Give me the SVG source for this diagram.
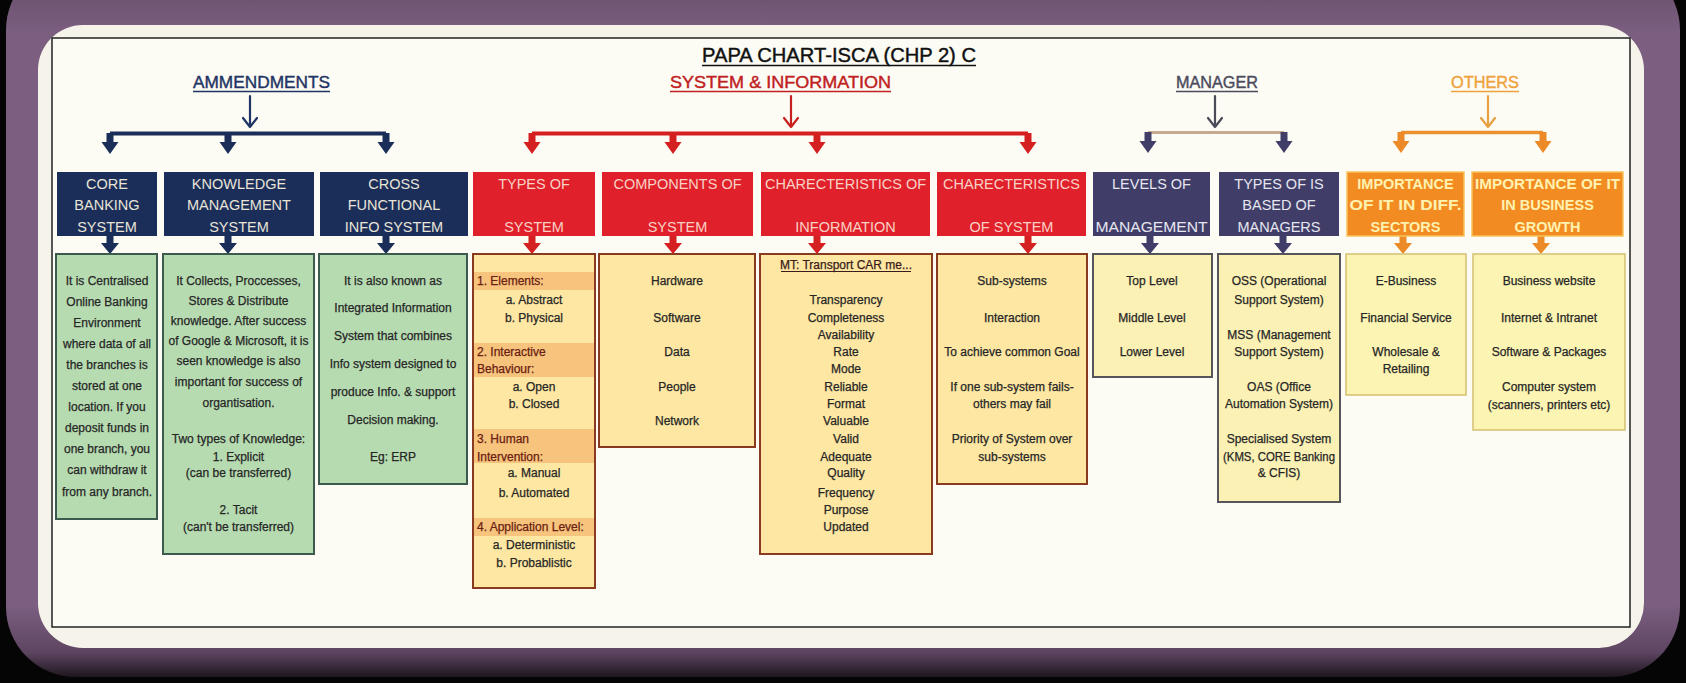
<svg xmlns="http://www.w3.org/2000/svg" width="1686" height="683" viewBox="0 0 1686 683">
<defs>
<style>
text{font-family:"Liberation Sans",Arial,sans-serif}
.b{font-size:12px;fill:#262626;stroke:#262626;stroke-width:0.25;text-anchor:middle}
.bl{font-size:12px;fill:#6a2010;stroke:#6a2010;stroke-width:0.25;text-anchor:start}
.hd{font-size:14.5px;text-anchor:middle}
.nv{fill:#1b2e59}.nvt{fill:#e8e4d8}
.rd{fill:#e0202a}.rdt{fill:#f8d2c6}
.sl{fill:#403e68}.slt{fill:#e6e6f0}
.or{fill:#f28c22;stroke:#f7c25c;stroke-width:1.5}.ort{fill:#fff2b0;font-weight:bold}
.gr{fill:#b6dbb1;stroke:#3d5a4e;stroke-width:2}
.ye{fill:#fde7a2;stroke:#8a3a20;stroke-width:2}
.mg{fill:#fbf1b4;stroke:#55555a;stroke-width:2}
.ot{fill:#fcf4b2;stroke:#d4c070;stroke-width:1.5}
.band{fill:#f7c47e}
.sec{font-size:17px;text-anchor:middle;stroke-width:0.4}
</style>
<linearGradient id="pg" x1="0" y1="0" x2="0" y2="1">
<stop offset="0" stop-color="#1e161e"/>
<stop offset="0.035" stop-color="#6a506c"/>
<stop offset="0.1" stop-color="#7b5e80"/>
<stop offset="0.9" stop-color="#7b5e80"/>
<stop offset="0.965" stop-color="#5e4662"/>
<stop offset="1" stop-color="#1e161e"/>
</linearGradient>
<path id="da" d="M-3.5,0 H3.5 V9 H8.5 L0,21 L-8.5,9 H-3.5 Z"/>
<path id="db" d="M-3.5,0 H3.5 V8 H9 L0,19 L-9,8 H-3.5 Z"/>
</defs>

<rect x="0" y="0" width="1686" height="683" fill="#050505"/>
<rect x="6" y="-40" width="1674" height="717" rx="70" fill="url(#pg)"/>
<rect x="38" y="25" width="1606" height="623" rx="45" fill="#f6f4ea"/>
<rect x="52" y="38" width="1578" height="589" fill="#fcfbf4" stroke="#222" stroke-width="1.5"/>

<g id="titles">
<text x="839" y="62" font-size="19.5" text-anchor="middle" fill="#111" stroke="#111" stroke-width="0.4" textLength="274" lengthAdjust="spacingAndGlyphs">PAPA CHART-ISCA (CHP 2) C</text>
<line x1="702" y1="65.5" x2="976" y2="65.5" stroke="#111" stroke-width="1.3"/>
<text class="sec" x="261.5" y="88" fill="#1f3464" stroke="#1f3464" textLength="137" lengthAdjust="spacingAndGlyphs">AMMENDMENTS</text>
<line x1="193" y1="91.5" x2="330" y2="91.5" stroke="#1f3464" stroke-width="1.3"/>
<text class="sec" x="780.5" y="88" fill="#c0201e" stroke="#c0201e" textLength="221" lengthAdjust="spacingAndGlyphs">SYSTEM &amp; INFORMATION</text>
<line x1="670" y1="91.5" x2="891" y2="91.5" stroke="#c0201e" stroke-width="1.3"/>
<text class="sec" x="1217" y="88" fill="#4a4a5c" stroke="#4a4a5c" textLength="82" lengthAdjust="spacingAndGlyphs">MANAGER</text>
<line x1="1176" y1="91.5" x2="1258" y2="91.5" stroke="#4a4a5c" stroke-width="1.3"/>
<text class="sec" x="1485" y="88" fill="#eea23c" stroke="#eea23c" textLength="68" lengthAdjust="spacingAndGlyphs">OTHERS</text>
<line x1="1451" y1="91.5" x2="1519" y2="91.5" stroke="#eea23c" stroke-width="1.3"/>
</g>

<g id="connectors">
<g fill="none" stroke-width="2.2" stroke-linecap="round" stroke-linejoin="round">
<path d="M250,96 V127 M243,118 L250,127 L257,118" stroke="#1f3464"/>
<path d="M791,96 V127 M784,118 L791,127 L798,118" stroke="#c8201e"/>
<path d="M1215,96 V127 M1208,118 L1215,127 L1222,118" stroke="#4a4a58"/>
<path d="M1488,96 V127 M1481,118 L1488,127 L1495,118" stroke="#e8a040"/>
</g>
<line x1="110" y1="133.5" x2="386" y2="133.5" stroke="#1b2e59" stroke-width="4"/>
<line x1="532" y1="133.5" x2="1028" y2="133.5" stroke="#d42020" stroke-width="4"/>
<line x1="1148" y1="132.5" x2="1284" y2="132.5" stroke="#c4ab90" stroke-width="3"/>
<line x1="1401" y1="132.5" x2="1543" y2="132.5" stroke="#eb922e" stroke-width="3.5"/>
<g fill="#1b2e59">
<use href="#da" x="110" y="133"/><use href="#da" x="228" y="133"/><use href="#da" x="386" y="133"/>
<use href="#db" x="110" y="235"/><use href="#db" x="228" y="235"/><use href="#db" x="386" y="235"/>
</g>
<g fill="#d42020">
<use href="#da" x="532" y="133"/><use href="#da" x="673" y="133"/><use href="#da" x="817" y="133"/><use href="#da" x="1028" y="133"/>
<use href="#db" x="532" y="235"/><use href="#db" x="673" y="235"/><use href="#db" x="817" y="235"/><use href="#db" x="1028" y="235"/>
</g>
<g fill="#403e68">
<use href="#da" x="1148" y="132"/><use href="#da" x="1284" y="132"/>
<use href="#db" x="1150" y="235"/><use href="#db" x="1283" y="235"/>
</g>
<g fill="#eb8a26">
<use href="#da" x="1401" y="132"/><use href="#da" x="1543" y="132"/>
<use href="#db" x="1403" y="235"/><use href="#db" x="1541" y="235"/>
</g>
</g>

<g id="h-core"><rect class="nv" x="57" y="172" width="100" height="64"/>
<text class="hd nvt" x="107" y="188.5">CORE</text><text class="hd nvt" x="107" y="209.5">BANKING</text><text class="hd nvt" x="107" y="232">SYSTEM</text></g>
<g id="h-kms"><rect class="nv" x="164" y="172" width="150" height="64"/>
<text class="hd nvt" x="239" y="188.5">KNOWLEDGE</text><text class="hd nvt" x="239" y="209.5">MANAGEMENT</text><text class="hd nvt" x="239" y="232">SYSTEM</text></g>
<g id="h-cfis"><rect class="nv" x="320" y="172" width="148" height="64"/>
<text class="hd nvt" x="394" y="188.5">CROSS</text><text class="hd nvt" x="394" y="209.5">FUNCTIONAL</text><text class="hd nvt" x="394" y="232">INFO SYSTEM</text></g>

<g id="h-types"><rect class="rd" x="473" y="172" width="122" height="64"/>
<text class="hd rdt" x="534" y="188.5">TYPES OF</text><text class="hd rdt" x="534" y="232">SYSTEM</text></g>
<g id="h-comp"><rect class="rd" x="602" y="172" width="151" height="64"/>
<text class="hd rdt" x="677.5" y="188.5">COMPONENTS OF</text><text class="hd rdt" x="677.5" y="232">SYSTEM</text></g>
<g id="h-charinfo"><rect class="rd" x="761" y="172" width="169" height="64"/>
<text class="hd rdt" x="845.5" y="188.5">CHARECTERISTICS OF</text><text class="hd rdt" x="845.5" y="232">INFORMATION</text></g>
<g id="h-charsys"><rect class="rd" x="937" y="172" width="149" height="64"/>
<text class="hd rdt" x="1011.5" y="188.5">CHARECTERISTICS</text><text class="hd rdt" x="1011.5" y="232">OF SYSTEM</text></g>

<g id="h-levels"><rect class="sl" x="1093" y="172" width="117" height="64"/>
<text class="hd slt" x="1151.5" y="188.5">LEVELS OF</text><text class="hd slt" x="1151.5" y="232" textLength="112" lengthAdjust="spacingAndGlyphs">MANAGEMENT</text></g>
<g id="h-typesis"><rect class="sl" x="1219" y="172" width="120" height="64"/>
<text class="hd slt" x="1279" y="188.5">TYPES OF IS</text><text class="hd slt" x="1279" y="209.5">BASED OF</text><text class="hd slt" x="1279" y="232">MANAGERS</text></g>

<g id="h-sectors"><rect class="or" x="1347" y="172" width="117" height="64"/>
<text class="hd ort" x="1405.5" y="188.5">IMPORTANCE</text><text class="hd ort" x="1405.5" y="209.5" textLength="112" lengthAdjust="spacingAndGlyphs">OF IT IN DIFF.</text><text class="hd ort" x="1405.5" y="232">SECTORS</text></g>
<g id="h-growth"><rect class="or" x="1472" y="172" width="151" height="64"/>
<text class="hd ort" x="1547.5" y="188.5" textLength="145" lengthAdjust="spacingAndGlyphs">IMPORTANCE OF IT</text><text class="hd ort" x="1547.5" y="209.5">IN BUSINESS</text><text class="hd ort" x="1547.5" y="232">GROWTH</text></g>

<g id="b-core"><rect class="gr" x="56" y="254" width="101" height="265"/>
<text class="b" x="107" y="285">It is Centralised</text>
<text class="b" x="107" y="306">Online Banking</text>
<text class="b" x="107" y="327">Environment</text>
<text class="b" x="107" y="348">where data of all</text>
<text class="b" x="107" y="369">the branches is</text>
<text class="b" x="107" y="390">stored at one</text>
<text class="b" x="107" y="411">location. If you</text>
<text class="b" x="107" y="432">deposit funds in</text>
<text class="b" x="107" y="453">one branch, you</text>
<text class="b" x="107" y="474">can withdraw it</text>
<text class="b" x="107" y="496">from any branch.</text>
</g>

<g id="b-kms"><rect class="gr" x="163" y="254" width="151" height="300"/>
<text class="b" x="238.5" y="285">It Collects, Proccesses,</text>
<text class="b" x="238.5" y="305">Stores &amp; Distribute</text>
<text class="b" x="238.5" y="325">knowledge. After success</text>
<text class="b" x="238.5" y="345">of Google &amp; Microsoft, it is</text>
<text class="b" x="238.5" y="365">seen knowledge is also</text>
<text class="b" x="238.5" y="386">important for success of</text>
<text class="b" x="238.5" y="407">organtisation.</text>
<text class="b" x="238.5" y="443">Two types of Knowledge:</text>
<text class="b" x="238.5" y="461">1. Explicit</text>
<text class="b" x="238.5" y="477">(can be transferred)</text>
<text class="b" x="238.5" y="514">2. Tacit</text>
<text class="b" x="238.5" y="531">(can't be transferred)</text>
</g>

<g id="b-cfis"><rect class="gr" x="319" y="254" width="148" height="230"/>
<text class="b" x="393" y="285">It is also known as</text>
<text class="b" x="393" y="312">Integrated Information</text>
<text class="b" x="393" y="340">System that combines</text>
<text class="b" x="393" y="368">Info system designed to</text>
<text class="b" x="393" y="396">produce Info. &amp; support</text>
<text class="b" x="393" y="424">Decision making.</text>
<text class="b" x="393" y="461">Eg: ERP</text>
</g>

<g id="b-types"><rect class="ye" x="473" y="254" width="122" height="334"/>
<rect class="band" x="474" y="272" width="120" height="18"/>
<rect class="band" x="474" y="343" width="120" height="34"/>
<rect class="band" x="474" y="429" width="120" height="34"/>
<rect class="band" x="474" y="518" width="120" height="18"/>
<text class="bl" x="477" y="285">1. Elements:</text>
<text class="b" x="534" y="304">a. Abstract</text>
<text class="b" x="534" y="322">b. Physical</text>
<text class="bl" x="477" y="356">2. Interactive</text>
<text class="bl" x="477" y="373">Behaviour:</text>
<text class="b" x="534" y="391">a. Open</text>
<text class="b" x="534" y="408">b. Closed</text>
<text class="bl" x="477" y="443">3. Human</text>
<text class="bl" x="477" y="461">Intervention:</text>
<text class="b" x="534" y="477">a. Manual</text>
<text class="b" x="534" y="497">b. Automated</text>
<text class="bl" x="477" y="531">4. Application Level:</text>
<text class="b" x="534" y="549">a. Deterministic</text>
<text class="b" x="534" y="567">b. Probablistic</text>
</g>

<g id="b-comp"><rect class="ye" x="599" y="254" width="156" height="193"/>
<text class="b" x="677" y="285">Hardware</text>
<text class="b" x="677" y="322">Software</text>
<text class="b" x="677" y="356">Data</text>
<text class="b" x="677" y="391">People</text>
<text class="b" x="677" y="425">Network</text>
</g>

<g id="b-charinfo"><rect class="ye" x="760" y="254" width="172" height="300"/>
<text class="b" x="846" y="269" style="fill:#3a1a1a;stroke:#3a1a1a">MT: Transport CAR me...</text>
<line x1="781" y1="271.5" x2="911" y2="271.5" stroke="#3a1a1a" stroke-width="1"/>
<text class="b" x="846" y="304">Transparency</text>
<text class="b" x="846" y="322">Completeness</text>
<text class="b" x="846" y="339">Availability</text>
<text class="b" x="846" y="356">Rate</text>
<text class="b" x="846" y="373">Mode</text>
<text class="b" x="846" y="391">Reliable</text>
<text class="b" x="846" y="408">Format</text>
<text class="b" x="846" y="425">Valuable</text>
<text class="b" x="846" y="443">Valid</text>
<text class="b" x="846" y="461">Adequate</text>
<text class="b" x="846" y="477">Quality</text>
<text class="b" x="846" y="497">Frequency</text>
<text class="b" x="846" y="514">Purpose</text>
<text class="b" x="846" y="531">Updated</text>
</g>

<g id="b-charsys"><rect class="ye" x="937" y="254" width="150" height="230"/>
<text class="b" x="1012" y="285">Sub-systems</text>
<text class="b" x="1012" y="322">Interaction</text>
<text class="b" x="1012" y="356">To achieve common Goal</text>
<text class="b" x="1012" y="391">If one sub-system fails-</text>
<text class="b" x="1012" y="408">others may fail</text>
<text class="b" x="1012" y="443">Priority of System over</text>
<text class="b" x="1012" y="461">sub-systems</text>
</g>

<g id="b-levels"><rect class="mg" x="1093" y="254" width="119" height="123"/>
<text class="b" x="1152" y="285">Top Level</text>
<text class="b" x="1152" y="322">Middle Level</text>
<text class="b" x="1152" y="356">Lower Level</text>
</g>

<g id="b-typesis"><rect class="mg" x="1218" y="254" width="122" height="248"/>
<text class="b" x="1279" y="285">OSS (Operational</text>
<text class="b" x="1279" y="304">Support System)</text>
<text class="b" x="1279" y="339">MSS (Management</text>
<text class="b" x="1279" y="356">Support System)</text>
<text class="b" x="1279" y="391">OAS (Office</text>
<text class="b" x="1279" y="408">Automation System)</text>
<text class="b" x="1279" y="443">Specialised System</text>
<text class="b" x="1279" y="461" textLength="112" lengthAdjust="spacingAndGlyphs">(KMS, CORE Banking</text>
<text class="b" x="1279" y="477">&amp; CFIS)</text>
</g>

<g id="b-sectors"><rect class="ot" x="1346" y="254" width="120" height="141"/>
<text class="b" x="1406" y="285">E-Business</text>
<text class="b" x="1406" y="322">Financial Service</text>
<text class="b" x="1406" y="356">Wholesale &amp;</text>
<text class="b" x="1406" y="373">Retailing</text>
</g>

<g id="b-growth"><rect class="ot" x="1473" y="254" width="152" height="176"/>
<text class="b" x="1549" y="285">Business website</text>
<text class="b" x="1549" y="322">Internet &amp; Intranet</text>
<text class="b" x="1549" y="356">Software &amp; Packages</text>
<text class="b" x="1549" y="391">Computer system</text>
<text class="b" x="1549" y="409">(scanners, printers etc)</text>
</g>
</svg>
